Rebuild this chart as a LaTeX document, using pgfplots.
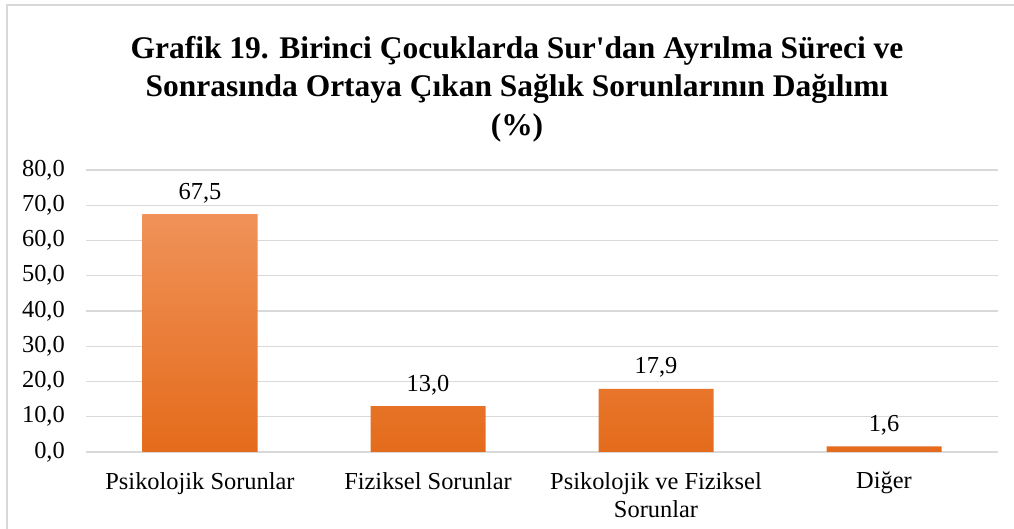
\documentclass[border=0pt]{standalone}
\usepackage{pgfplots}
\pgfplotsset{compat=1.18}
\usepackage{fontspec}
\setmainfont{Liberation Serif}[Ligatures=TeXOff]
\definecolor{gridc}{HTML}{D9D9D9}
\definecolor{bartop}{HTML}{F09259}
\definecolor{barmid}{HTML}{F27B28}
\definecolor{barbot}{HTML}{E46B1B}
\begin{document}
\begin{tikzpicture}[x=1bp,y=1bp]
\begin{axis}[
  at={(0,0)}, anchor=south west,
  width=912bp, height=282bp, scale only axis,
  xmin=-0.5, xmax=3.5, ymin=0, ymax=80,
  ytick={0,10,...,80},
  ymajorgrids, grid style={gridc, line width=1.2bp},
  axis line style={draw=none},
  major tick length=0pt,
  xtick={0,1,2,3},
  xticklabels={Psikolojik Sorunlar, Fiziksel Sorunlar, {Psikolojik ve Fiziksel\\Sorunlar}, Diğer},
  xticklabel style={align=center, font=\fontsize{24.5}{28}\selectfont, anchor=north, inner sep=0pt, yshift=-20bp},
  yticklabel style={font=\fontsize{24.5}{28}\selectfont, anchor=east, inner sep=0pt, xshift=-21bp},
  /pgf/number format/assume math mode=true,
  yticklabel={\pgfmathprintnumber[fixed, fixed zerofill, precision=1, use comma]{\tick}},
  nodes near coords={\pgfmathprintnumber[fixed, fixed zerofill, precision=1, use comma]{\pgfplotspointmeta}},
  nodes near coords style={font=\fontsize{24.5}{28}\selectfont, anchor=base, inner sep=0pt, yshift=15bp},
]
\addplot[ybar, bar width=115bp, draw=none, top color=bartop, middle color=barmid, bottom color=barbot]
  coordinates {(0,67.5) (1,13.0) (2,17.9) (3,1.6)};
\end{axis}
\pgfresetboundingbox
\useasboundingbox (-86,-77) rectangle (928,452);
\draw[gridc, line width=1.2bp] (-79,-80) -- (-79,447) -- (930,447);
\node[font=\fontsize{31.6}{38.5}\selectfont\bfseries, align=center] at (431,363) {Grafik 19. Birinci Çocuklarda Sur'dan Ayrılma Süreci ve\\Sonrasında Ortaya Çıkan Sağlık Sorunlarının Dağılımı\\(\%)};
\end{tikzpicture}
\end{document}
